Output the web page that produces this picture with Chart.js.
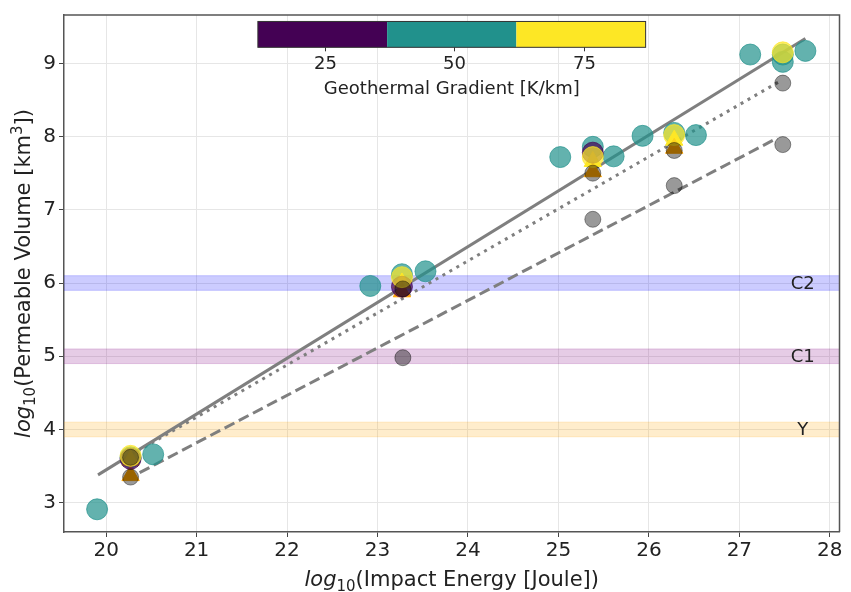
<!DOCTYPE html>
<html>
<head>
<meta charset="utf-8">
<script src="https://cdn.jsdelivr.net/npm/chart.js@4/dist/chart.umd.min.js"></script>
<style>
  html, body { margin: 0; padding: 0; background: #fff; }
  #chart { display: block; }
</style>
</head>
<body>
<canvas id="chart" width="851" height="592"></canvas>
<script>
// axis ranges
var xMin = 19.534, xMax = 28.107;
var yMin = 2.6, yMax = 9.66;

// circles coloured by geothermal gradient (25 / 50 / 75 K/km)
var g25X = [20.27, 23.27, 25.38];
var g25Y = [3.60, 5.95, 7.78];
var g50X = [19.90, 20.27, 20.52, 22.92, 23.27, 23.53, 25.02, 25.38, 25.61, 25.93, 26.28, 26.52, 27.12, 27.48, 27.48, 27.73];
var g50Y = [2.91, 3.62, 3.66, 5.96, 6.12, 6.16, 7.72, 7.86, 7.73, 8.01, 8.05, 8.02, 9.12, 9.02, 9.12, 9.17];
var g75X = [20.27, 23.27, 25.38, 26.28, 27.48];
var g75Y = [3.64, 6.08, 7.72, 8.02, 9.15];

// triangles
var triYellowX = [20.27, 23.27, 25.38, 26.28];
var triYellowY = [3.58, 6.00, 7.66, 7.95];
var triOrangeX = [20.27, 23.27, 25.38, 26.28];
var triOrangeY = [3.37, 5.88, 7.52, 7.84];

// grey circles
var greyX = [20.27, 20.27, 23.28, 23.28, 25.38, 25.38, 26.28, 26.28, 27.48, 27.48];
var greyY = [3.35, 3.62, 4.98, 5.92, 6.87, 7.50, 7.33, 7.81, 7.89, 8.73];

// fit lines
var solidX = [19.91, 27.73];
var solidY = [3.38, 9.34];
var dottedX = [20.27, 27.47];
var dottedY = [3.65, 8.77];
var dashedX = [20.37, 27.42];
var dashedY = [3.41, 7.98];

// horizontal bands
var bandNames = ['C2', 'C1', 'Y'];
var bandLow = [5.9, 4.9, 3.9];
var bandHigh = [6.1, 5.1, 4.1];
var bandColors = ['rgba(0,0,255,0.2)', 'rgba(128,0,128,0.2)', 'rgba(255,165,0,0.2)'];
var bandLabelX = 27.7;

// colorbar
var cbEdges = [12, 37, 62, 87];
var cbColors = ['#440154', '#21918c', '#fde725'];
var cbTicks = [25, 50, 75];
var cbLabel = 'Geothermal Gradient [K/km]';

var FONT = "'DejaVu Sans', sans-serif";

function pts(xs, ys) {
    return xs.map(function (x, i) { return { x: x, y: ys[i] }; });
}

var datasets = [];

// scatter layers (lower order = drawn on top)
function scatter(xs, ys, color, radius, style, order) {
    datasets.push({
        type: 'scatter',
        data: pts(xs, ys),
        backgroundColor: color,
        borderColor: color,
        borderWidth: 1,
        pointRadius: radius,
        pointStyle: style,
        order: order
    });
}
scatter(greyX, greyY, 'rgba(0,0,0,0.4)', 8, 'circle', 1);
scatter(g75X, g75Y, 'rgba(253,231,37,0.7)', 10.5, 'circle', 2);
scatter(g25X, g25Y, 'rgba(68,1,84,0.7)', 10.5, 'circle', 3);
scatter(triOrangeX, triOrangeY, '#ffa500', 10, 'triangle', 4);
scatter(triYellowX, triYellowY, '#fde725', 10, 'triangle', 5);
scatter(g50X, g50Y, 'rgba(33,145,140,0.7)', 10.5, 'circle', 6);

function fitLine(xs, ys, dash, order) {
    datasets.push({
        type: 'line',
        data: pts(xs, ys),
        borderColor: '#7f7f7f',
        borderWidth: 3,
        borderDash: dash,
        pointRadius: 0,
        fill: false,
        order: order
    });
}
fitLine(solidX, solidY, [], 20);
fitLine(dottedX, dottedY, [3, 5], 21);
fitLine(dashedX, dashedY, [11, 5], 22);

for (var b = 0; b < bandNames.length; b++) {
    datasets.push({
        type: 'line',
        data: pts([xMin, xMax], [bandHigh[b], bandHigh[b]]),
        borderWidth: 1,
        borderColor: bandColors[b],
        backgroundColor: bandColors[b],
        pointRadius: 0,
        fill: { value: bandLow[b] },
        order: 30 + b
    });
    datasets.push({
        type: 'line',
        data: pts([xMin, xMax], [bandLow[b], bandLow[b]]),
        borderWidth: 1,
        borderColor: bandColors[b],
        pointRadius: 0,
        fill: false,
        order: 30 + b
    });
}

function richText(ctx, parts, x, y, rotate) {
    var total = 0;
    parts.forEach(function (p) {
        ctx.font = p.font;
        p.w = ctx.measureText(p.t).width;
        total += p.w;
    });
    ctx.save();
    ctx.translate(x, y);
    if (rotate) ctx.rotate(-Math.PI / 2);
    var cx = -total / 2;
    ctx.textBaseline = 'alphabetic';
    ctx.textAlign = 'left';
    ctx.fillStyle = '#222';
    parts.forEach(function (p) {
        ctx.font = p.font;
        ctx.fillText(p.t, cx, p.dy || 0);
        cx += p.w;
    });
    ctx.restore();
}

var extras = {
    id: 'extras',
    afterDraw: function (chart) {
        var ctx = chart.ctx, a = chart.chartArea;
        var xs = chart.scales.x, ys = chart.scales.y;
        var w = a.right - a.left, h = a.bottom - a.top;

        // top and right spines
        ctx.save();
        ctx.strokeStyle = '#555';
        ctx.lineWidth = 1.5;
        ctx.beginPath();
        ctx.moveTo(a.left, a.top);
        ctx.lineTo(a.right, a.top);
        ctx.lineTo(a.right, a.bottom);
        ctx.stroke();
        ctx.restore();

        // band labels
        ctx.save();
        ctx.font = '18px ' + FONT;
        ctx.fillStyle = '#222';
        ctx.textAlign = 'center';
        ctx.textBaseline = 'middle';
        for (var i = 0; i < bandNames.length; i++) {
            var my = (bandLow[i] + bandHigh[i]) / 2;
            ctx.fillText(bandNames[i], xs.getPixelForValue(bandLabelX), ys.getPixelForValue(my) + 1);
        }
        ctx.restore();

        // colorbar inset
        var cx0 = a.left + 0.25 * w, cx1 = a.left + 0.75 * w;
        var cyT = a.top + (1 - 0.9875) * h, cyB = a.top + (1 - 0.9375) * h;
        var v0 = cbEdges[0], v1 = cbEdges[cbEdges.length - 1];
        function cbPix(v) { return cx0 + (v - v0) / (v1 - v0) * (cx1 - cx0); }
        ctx.save();
        for (var k = 0; k < cbColors.length; k++) {
            ctx.fillStyle = cbColors[k];
            ctx.fillRect(cbPix(cbEdges[k]), cyT, cbPix(cbEdges[k + 1]) - cbPix(cbEdges[k]), cyB - cyT);
        }
        ctx.strokeStyle = '#333';
        ctx.lineWidth = 1;
        ctx.strokeRect(cx0, cyT, cx1 - cx0, cyB - cyT);
        ctx.fillStyle = '#222';
        ctx.font = '18px ' + FONT;
        ctx.textAlign = 'center';
        ctx.textBaseline = 'middle';
        cbTicks.forEach(function (t) {
            var px = Math.round(cbPix(t)) + 0.5;
            ctx.beginPath();
            ctx.moveTo(px, cyB);
            ctx.lineTo(px, cyB + 4);
            ctx.stroke();
            ctx.fillText(String(t), px, cyB + 17);
        });
        ctx.fillText(cbLabel, (cx0 + cx1) / 2, cyB + 42);
        ctx.restore();

        // axis titles
        var big = '21px ' + FONT, ital = 'italic 21px ' + FONT, small = '15px ' + FONT;
        richText(ctx, [
            { t: 'log', font: ital },
            { t: '10', font: small, dy: 5 },
            { t: '(Impact Energy [Joule])', font: big }
        ], (a.left + a.right) / 2, 586, false);
        richText(ctx, [
            { t: 'log', font: ital },
            { t: '10', font: small, dy: 5 },
            { t: '(Permeable Volume [km', font: big },
            { t: '3', font: small, dy: -8 },
            { t: '])', font: big }
        ], 30, (a.top + a.bottom) / 2, true);
    }
};

var tickFont = { family: FONT, size: 20 };

new Chart(document.getElementById('chart'), {
    type: 'scatter',
    data: { datasets: datasets },
    options: {
        responsive: false,
        animation: false,
        layout: { padding: { left: 0, right: 7, top: 15, bottom: 0 } },
        plugins: {
            legend: { display: false },
            tooltip: { enabled: false }
        },
        scales: {
            x: {
                type: 'linear',
                min: xMin,
                max: xMax,
                ticks: { stepSize: 1, includeBounds: false, font: tickFont, color: '#222', padding: 2, maxRotation: 0 },
                grid: { color: '#e6e6e6', tickLength: 5, tickColor: '#444' },
                border: { color: '#555', width: 1.5 },
                afterFit: function (s) { s.height = 60; }
            },
            y: {
                type: 'linear',
                min: yMin,
                max: yMax,
                ticks: { stepSize: 1, includeBounds: false, font: tickFont, color: '#222', padding: 3 },
                grid: { color: '#e6e6e6', tickLength: 5, tickColor: '#444' },
                border: { color: '#555', width: 1.5 },
                afterFit: function (s) { s.width = 64; }
            }
        }
    },
    plugins: [extras]
});
</script>
</body>
</html>
